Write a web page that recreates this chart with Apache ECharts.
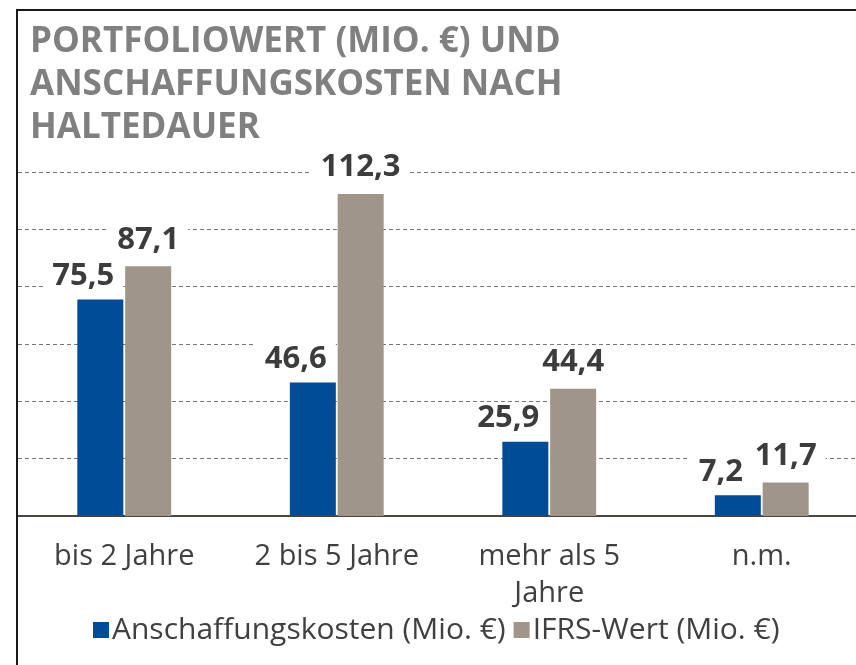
<!DOCTYPE html>
<html>
<head>
<meta charset="utf-8">
<script src="https://cdn.jsdelivr.net/npm/echarts@6/dist/echarts.min.js"></script>
<style>
  html, body { margin: 0; padding: 0; background: #fff; }
  #chart { width: 856px; height: 665px; }
</style>
</head>
<body>
<div id="chart"></div>
<script>
// Daten
const categories = ['bis 2 Jahre', '2 bis 5 Jahre', 'mehr als 5\nJahre', 'n.m.'];
const anschaffung = [75.5, 46.6, 25.9, 7.2];
const ifrsWert = [87.1, 112.3, 44.4, 11.7];
const seriesNames = ['Anschaffungskosten (Mio. €)', 'IFRS-Wert (Mio. €)'];

const fmt = p => String(p.value).replace('.', ',');

const labelStyle = {
  show: true,
  position: 'top',
  distance: 11,
  formatter: fmt,
  fontFamily: 'Open Sans',
  fontWeight: 'bold',
  fontSize: 31,
  color: '#3c3c3c',
  backgroundColor: '#fff',
  padding: [0, 9]
};

const myChart = echarts.init(document.getElementById('chart'));

myChart.setOption({
  animation: false,
  title: {
    text: 'PORTFOLIOWERT (MIO. €) UND\nANSCHAFFUNGSKOSTEN NACH\nHALTEDAUER',
    left: 25,
    top: 16,
    textStyle: {
      fontFamily: 'Open Sans',
      fontWeight: 'bold',
      fontSize: 35,
      lineHeight: 43,
      color: '#808080'
    }
  },
  legend: {
    left: 88,
    top: 610,
    icon: 'rect',
    itemWidth: 16,
    itemHeight: 16,
    itemGap: 8,
    textStyle: {
      fontFamily: 'Open Sans',
      fontSize: 30,
      color: '#404040',
      padding: [0, 0, 0, -2]
    },
    data: seriesNames
  },
  grid: {
    left: 18,
    top: 172,
    width: 850,
    bottom: 149,
    outerBoundsMode: 'none'
  },
  xAxis: {
    type: 'category',
    data: categories,
    axisTick: { show: false },
    axisLine: { lineStyle: { color: '#4a4540', width: 2 } },
    axisLabel: {
      margin: 22,
      fontFamily: 'Open Sans',
      fontSize: 29,
      lineHeight: 37,
      color: '#404040',
      interval: 0
    }
  },
  yAxis: {
    type: 'value',
    min: 0,
    max: 120,
    interval: 20,
    axisLabel: { show: false },
    axisLine: { show: false },
    axisTick: { show: false },
    splitLine: {
      lineStyle: { color: '#777', type: [4, 3], width: 1 }
    }
  },
  graphic: [{
    type: 'polyline',
    shape: { points: [[17, 665], [17, 10], [856, 10]] },
    style: { stroke: '#1a1a1a', lineWidth: 2, fill: null },
    z: 100
  }],
  series: [
    {
      name: seriesNames[0],
      type: 'bar',
      data: anschaffung,
      barWidth: 46,
      barGap: '4%',
      itemStyle: { color: '#004c97' },
      label: Object.assign({}, labelStyle, { offset: [-17, 0], distance: 8 })
    },
    {
      name: seriesNames[1],
      type: 'bar',
      data: ifrsWert,
      barWidth: 46,
      barGap: '4%',
      itemStyle: { color: '#9f9588' },
      label: labelStyle
    }
  ]
});
</script>
</body>
</html>
